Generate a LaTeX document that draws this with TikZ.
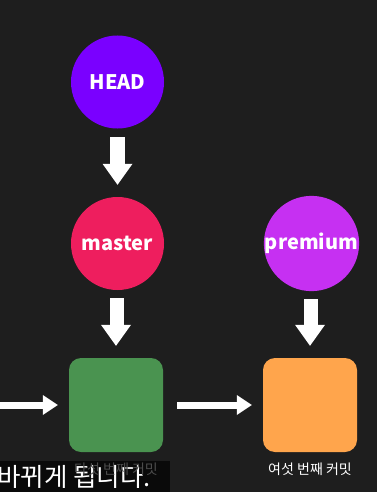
\documentclass[tikz,border=0pt]{standalone}
\usepackage{fontspec}
\setmainfont{Noto Sans}
\newfontfamily\kr{Noto Sans CJK KR}
\usetikzlibrary{calc}
\definecolor{bg}{HTML}{1E1E1E}
\definecolor{headc}{HTML}{7A00FF}
\definecolor{masterc}{HTML}{EE1E5E}
\definecolor{premc}{HTML}{C630F2}
\definecolor{greenc}{HTML}{4A9350}
\definecolor{orangec}{HTML}{FFA54C}
\definecolor{subbg}{HTML}{0A0A0A}
\definecolor{dimtext}{HTML}{4C4C4C}
\tikzset{
  refc/.style={circle, minimum size=93pt, inner sep=0pt, text=white,
    font=\kr\fontsize{20}{22}\selectfont\bfseries},
  commit/.style={rounded corners=12pt, minimum size=94pt, inner sep=0pt},
  small/.style={font=\kr\fontsize{14}{15}\selectfont, inner sep=0pt}
}
% vertical block arrow from node #1 (south) to node #2 (north)
\newcommand{\vblock}[2]{%
  \coordinate (vs) at ($(#1.south)+(0,8)$);
  \coordinate (ve) at ($(#2.north)+(0,-12)$);
  \fill[white] ($(vs)+(-7.5,0)$) rectangle ($(ve)+(7.5,-20.5)$);
  \fill[white] (ve) -- ($(ve)+(-15,-21)$) -- ($(ve)+(15,-21)$) -- cycle;
}
% horizontal block arrow from coordinate #1 to coordinate #2
\newcommand{\hblock}[2]{%
  \fill[white] ($(#1)+(0,-3.5)$) rectangle ($(#2)+(-14.5,3.5)$);
  \fill[white] (#2) -- ($(#2)+(-15,-10)$) -- ($(#2)+(-15,10)$) -- cycle;
}
\begin{document}
\begin{tikzpicture}[x=1pt, y=-1pt]
\fill[bg] (0,0) rectangle (377,492);
\useasboundingbox (0,0) rectangle (377,492);
\node[refc, fill=headc] (head) at (117.5,82) {HEAD};
\node[refc, fill=masterc] (master) at (117.5,243.5) {master};
\node[refc, fill=premc] (premium) at (311.5,243.5) {premium};
\node[commit, fill=greenc] (c5) at (116,405) {};
\node[commit, fill=orangec] (c6) at (310,405) {};
\vblock{head}{master}
\vblock{master}{c5}
\vblock{premium}{c6}
\coordinate (lin) at (0,405);
\coordinate (lend) at ($(c5.west)+(-11,0)$);
\coordinate (mstart) at ($(c5.east)+(14,0)$);
\coordinate (mend) at ($(c6.west)+(-11,0)$);
\hblock{lin}{lend}
\hblock{mstart}{mend}
\node[small, text=white] (t6) at (310,469) {여섯 번째 커밋};
\fill[subbg] (0,461) rectangle (170,492);
\node[anchor=west, inner sep=0pt, text=white, font=\kr\fontsize{25.5}{27}\selectfont] (sub) at (-3,477) {바뀌게 됩니다.};
\node[small, text=dimtext] (t5) at (116,469) {다섯 번째 커밋};
\end{tikzpicture}
\end{document}
